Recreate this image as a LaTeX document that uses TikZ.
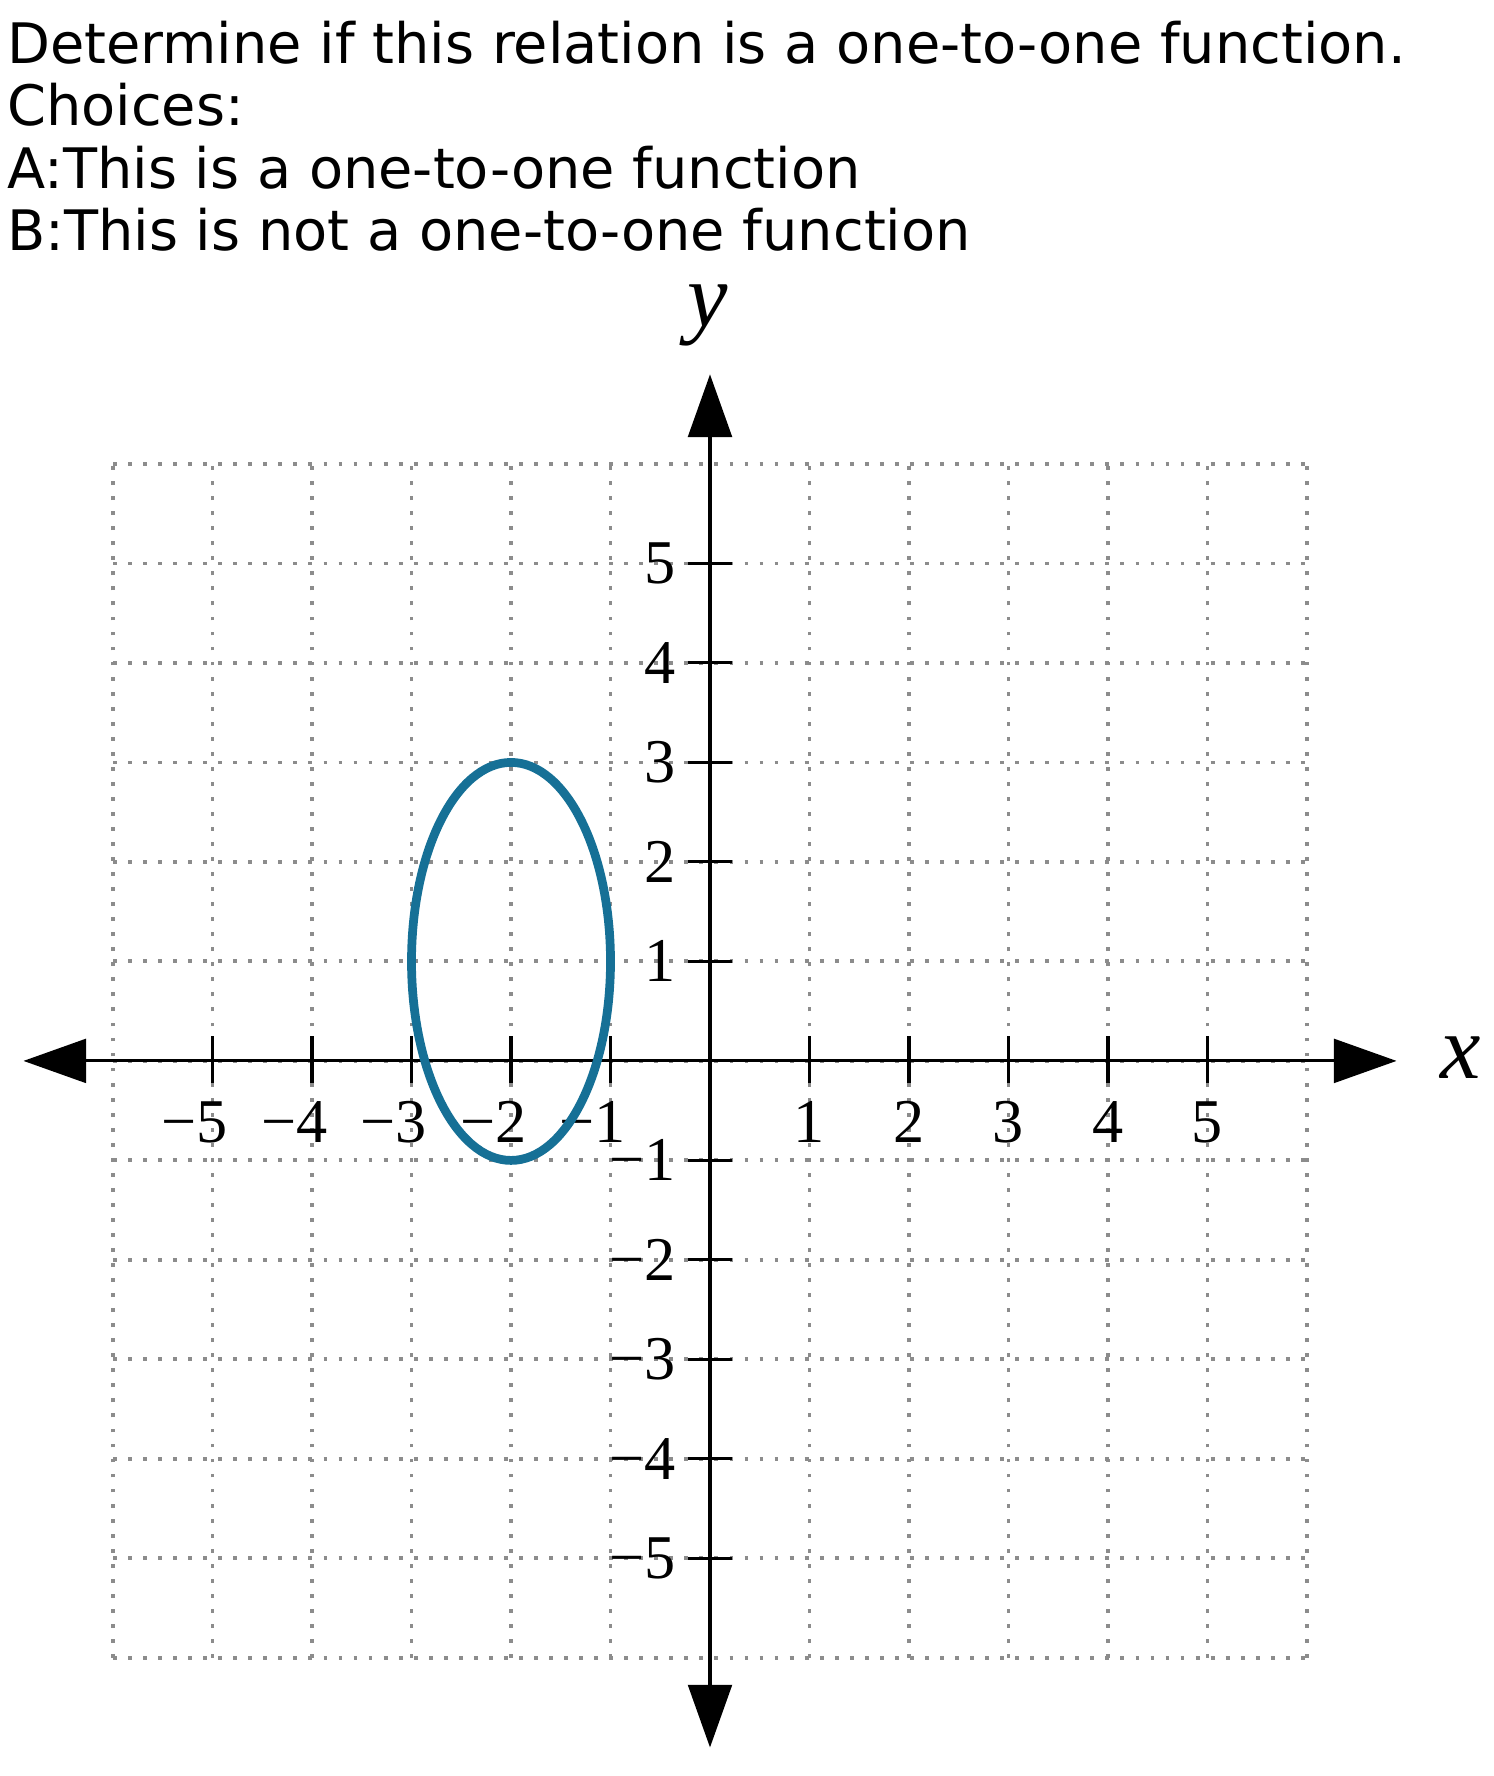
\documentclass[tikz,border=0pt]{standalone}
\usepackage{fontspec}
\setmainfont{DejaVu Sans}
\newfontfamily\tickfont{Liberation Serif}
\usetikzlibrary{arrows.meta}
\definecolor{ovalblue}{RGB}{22,112,150}

\begin{document}
\begin{tikzpicture}[
  prompt/.style={anchor=base west, inner sep=0pt,
                 font=\fontsize{15.95}{17.8}\selectfont},
  gridline/.style={line width=1.1pt, black!45,
                   dash pattern=on 1.1pt off 3.2pt},
  axis/.style={line width=0.9pt,
               {Triangle[length=6.3mm, width=4.4mm]}-{Triangle[length=6.3mm, width=4.4mm]}},
  tickmark/.style={line width=0.9pt},
  num/.style={inner sep=0pt, font=\tickfont\fontsize{17.8}{17.8}\selectfont},
  axlabel/.style={inner sep=0pt, font=\tickfont\itshape\fontsize{26}{26}\selectfont},
  oval/.style={ovalblue, line width=2.5pt}
]
\useasboundingbox (-7.136,-7.187) rectangle (7.879,10.663);

% question and choices
\node[prompt] (quest) at (-7.07,10.026) {Determine if this relation is a one-to-one function.};
\node[prompt] (choices) at (-7.07,9.399) {Choices:};
\node[prompt] (choiceA) at (-7.07,8.773) {A:This is a one-to-one function};
\node[prompt] (choiceB) at (-7.07,8.147) {B:This is not a one-to-one function};

% grid and axes
\draw[gridline] (-6,-6) grid (6,6);
\coordinate (xw) at (-6.9,0);
\coordinate (xe) at (6.9,0);
\coordinate (ys) at (0,-6.9);
\coordinate (yn) at (0,6.9);
\draw[axis] (xw) -- (xe);
\draw[axis] (ys) -- (yn);
\node[axlabel] (xlab) at (7.54,0.03) {x};
\node[axlabel] (ylab) at (-0.02,7.49) {y};

% ticks and numbers
\foreach \k in {1,...,5} {
  \draw[tickmark] (\k,-0.22) -- (\k,0.25);
  \draw[tickmark] (-\k,-0.22) -- (-\k,0.25);
  \draw[tickmark] (-0.22,\k) -- (0.22,\k);
  \draw[tickmark] (-0.22,-\k) -- (0.22,-\k);
  \node[num, anchor=north] (xp\k) at (\k,-0.40) {\k};
  \node[num, anchor=north] (xn\k) at (-\k,-0.40) {\llap{−}\k};
  \node[num, anchor=east] (yp\k) at (-0.34,\k) {\k};
  \node[num, anchor=east] (yn\k) at (-0.34,-\k) {−\k};
}

% the relation
\draw[oval] (-2,1) ellipse [x radius=1, y radius=2];
\end{tikzpicture}
\end{document}
